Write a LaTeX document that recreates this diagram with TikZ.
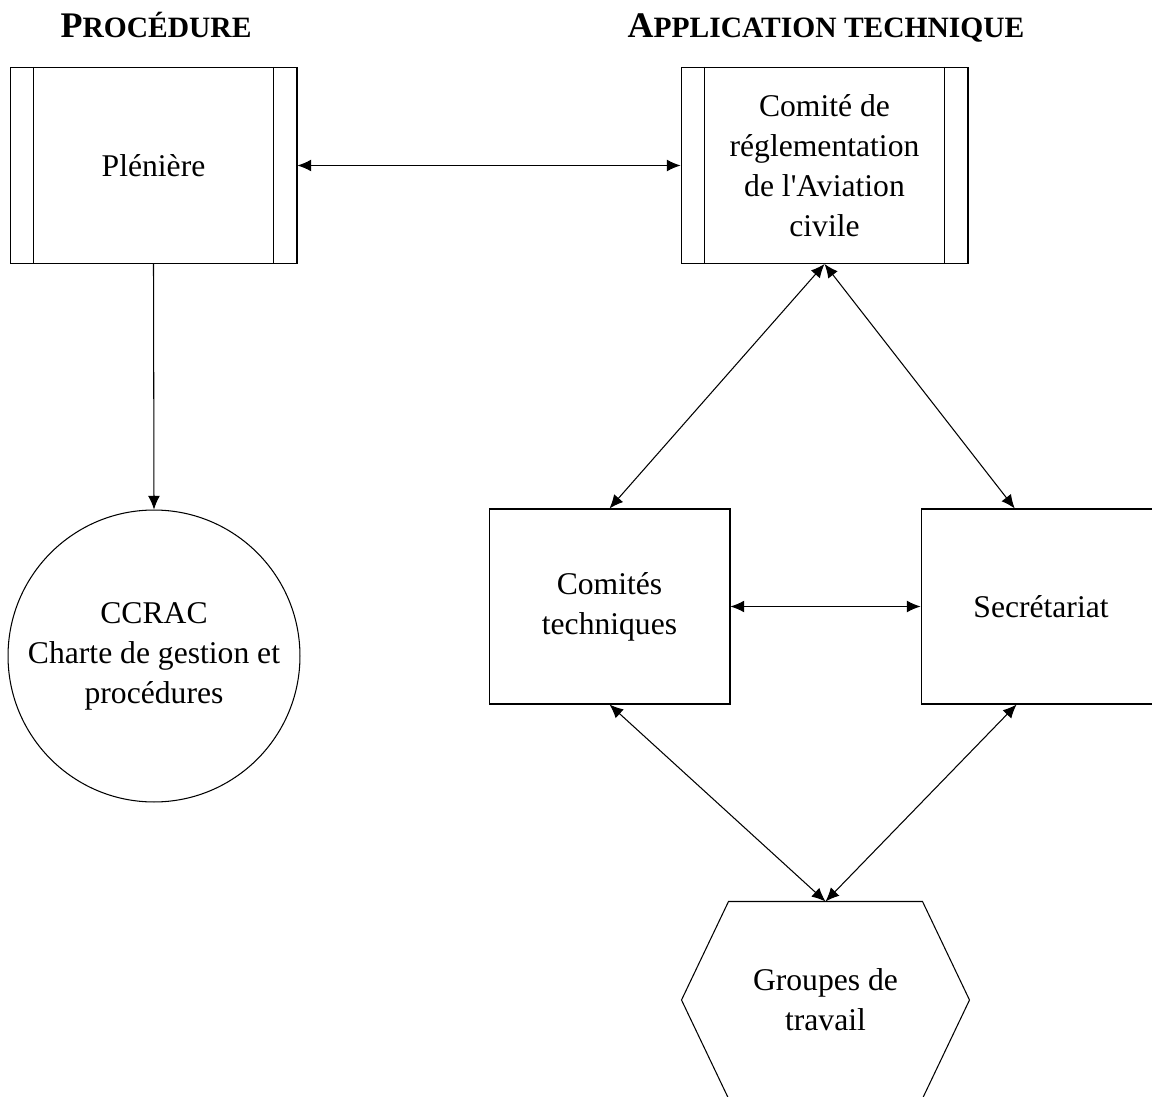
\documentclass[tikz,border=0pt]{standalone}
\usepackage{fontspec}
\newfontfamily\diagfont{Liberation Serif}
\usetikzlibrary{arrows.meta}

\newcommand\bodysize{\fontsize{18}{22.8}\selectfont}
\newcommand\headsc[2]{\bfseries{\fontsize{20.5}{22}\selectfont #1}{\fontsize{16.8}{22}\selectfont #2}}

\tikzset{
  box/.style={draw,line width=0.6pt,align=center,font=\diagfont\bodysize,inner sep=0pt},
  head/.style={anchor=base,font=\diagfont,inner sep=0pt},
  link/.style={line width=0.6pt,{Latex[length=7.8pt,width=6.8pt]}-{Latex[length=7.8pt,width=6.8pt]}},
  onelink/.style={line width=0.6pt,-{Latex[length=7.8pt,width=6.8pt]}}
}

\begin{document}
\begin{tikzpicture}[x=0.02cm,y=-0.02cm]
\useasboundingbox (0,0) rectangle (1152,1097);
% titres
\node[head] (hproc) at (156,38) {\headsc{P}{ROCÉDURE}};
\node[head] (happ) at (826,38) {\headsc{A}{PPLICATION TECHNIQUE}};
% boites
\node[box,minimum width=5.74cm,minimum height=3.92cm] (pl) at (153.5,165.5) {Plénière};
\node[box,minimum width=5.74cm,minimum height=3.92cm] (cr) at (824.5,165.5) {Comité de\\réglementation\\de l'Aviation\\civile};
\foreach \n in {pl,cr}{
  \draw[line width=0.6pt] ([xshift=0.48cm]\n.north west) -- ([xshift=0.48cm]\n.south west);
  \draw[line width=0.6pt] ([xshift=-0.48cm]\n.north east) -- ([xshift=-0.48cm]\n.south east);
}
\node[box,circle,minimum size=5.84cm] (ccrac) at (154,656) {CCRAC\\Charte de gestion et\\procédures};
\node[box,minimum width=4.82cm,minimum height=3.9cm] (ct) at (609.5,606.5) {Comités\\techniques};
\node[box,minimum width=4.8cm,minimum height=3.9cm] (sec) at (1041,606.5) {Secrétariat};
\node[box,draw=none,minimum width=5.74cm,minimum height=3.92cm] (gt) at (825.5,1000) {Groupes de\\travail};
\draw[line width=0.6pt] ([xshift=0.94cm]gt.north west) -- ([xshift=-0.94cm]gt.north east) -- (gt.east)
  -- ([xshift=-0.94cm]gt.south east) -- ([xshift=0.94cm]gt.south west) -- (gt.west) -- cycle;
% liaisons
\draw[link] (pl.east) -- (cr.west);
\draw[onelink] (pl.south) -- (ccrac.north);
\draw[link] (cr.south) -- (ct.north);
\draw[link] (cr.south) -- (sec.105);
\draw[link] (ct.east) -- (sec.west);
\draw[link] (ct.south) -- (gt.north);
\draw[link] (sec.256) -- (gt.north);
\end{tikzpicture}
\end{document}
